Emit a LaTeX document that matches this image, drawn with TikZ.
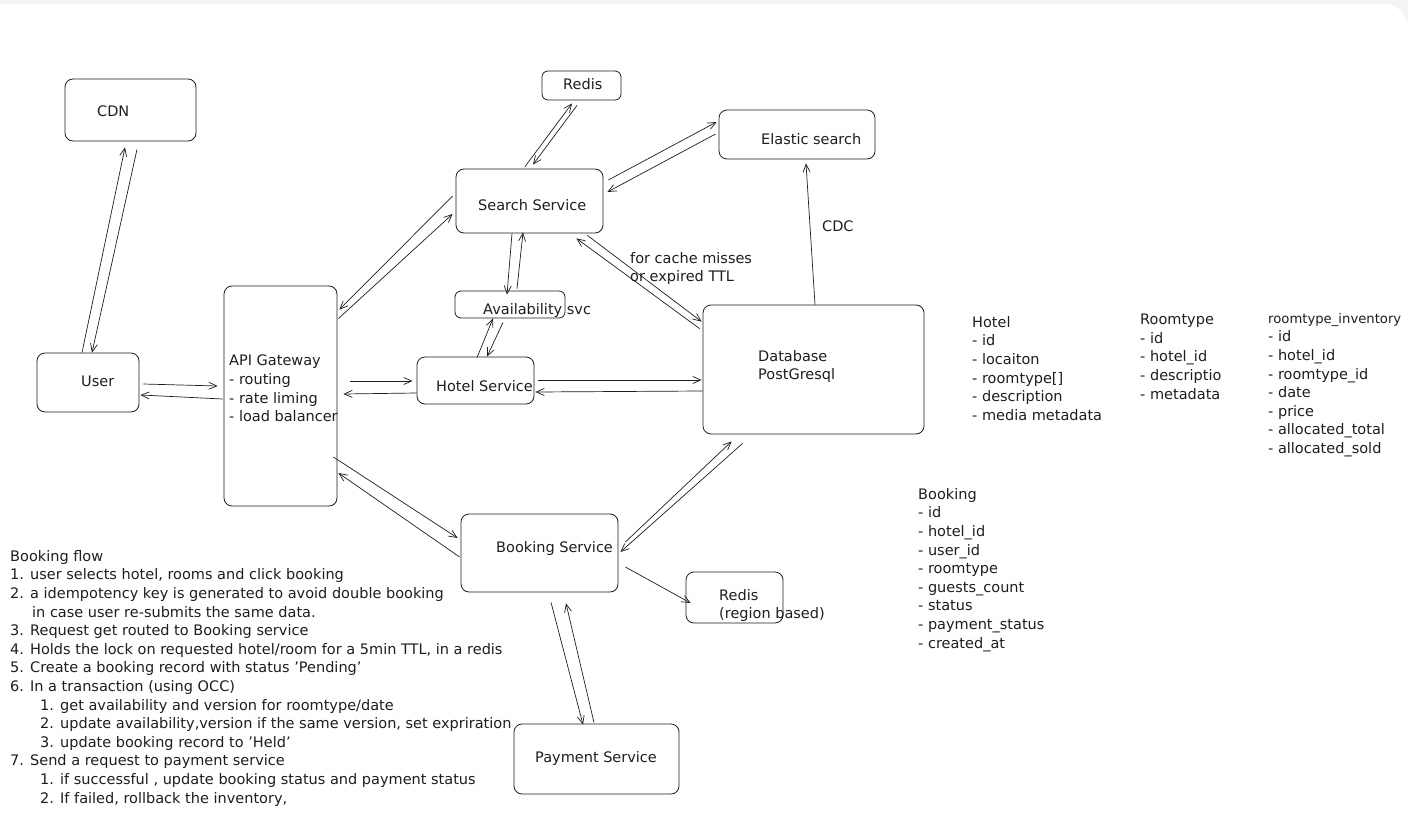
\documentclass[tikz,border=0pt]{standalone}
\usepackage{fontspec}
\setmainfont{DejaVu Sans}
\usetikzlibrary{arrows.meta,calc}
\definecolor{ink}{HTML}{1E1E1E}
\definecolor{framegray}{HTML}{F3F4F6}
\newcommand{\sketchfont}{\fontsize{14.5}{18.6}\selectfont}
\tikzset{
  box/.style={
    draw=ink,
    line width=0.8pt,
    rounded corners=8pt,
    inner sep=0pt
  },
  lbl/.style={
    anchor=west,
    inner sep=0pt,
    text=ink,
    text height=11pt,
    text depth=3pt,
    font=\sketchfont
  },
  note/.style={
    anchor=north west,
    inner sep=0pt,
    text=ink,
    align=left,
    font=\sketchfont
  },
  link/.style={
    draw=ink,
    line width=0.7pt,
    -{Straight Barb[length=8pt,width=7pt]}
  }
}

\begin{document}
\begin{tikzpicture}[x=1pt,y=-1pt]
  \useasboundingbox (0,0) rectangle (1408,816);
  \fill[framegray] (0,0) rectangle (1408,816);
  \fill[white, rounded corners=24pt] (-30,4) -- (1408,4) -- (1408,850) -- (-30,850) -- cycle;

  % boxes
  \node[box, minimum width=131pt, minimum height=62pt] (cdn) at (130.5,110) {};
  \node[box, minimum width=102pt, minimum height=59pt] (user) at (88,382.5) {};
  \node[box, minimum width=113pt, minimum height=220pt] (gateway) at (280.5,396) {};
  \node[box, minimum width=79pt, minimum height=29pt, rounded corners=6pt] (redis) at (581.5,85.5) {};
  \node[box, minimum width=147pt, minimum height=64pt] (search) at (529.5,201) {};
  \node[box, minimum width=156pt, minimum height=49pt] (elastic) at (797,134.5) {};
  \node[box, minimum width=110pt, minimum height=27pt, rounded corners=6pt] (avail) at (510,304.5) {};
  \node[box, minimum width=117pt, minimum height=47pt] (hotel) at (475.5,380.5) {};
  \node[box, minimum width=221pt, minimum height=129pt] (db) at (813.5,369.5) {};
  \node[box, minimum width=157pt, minimum height=78pt] (booking) at (539.5,553) {};
  \node[box, minimum width=97pt, minimum height=51pt] (lockcache) at (734.5,597.5) {};
  \node[box, minimum width=165pt, minimum height=70pt] (payment) at (596.5,759) {};

  % box texts
  \node[lbl] (cdntext) at (97,112) {CDN};
  \node[lbl] (usertext) at (81,382) {User};
  \node[note] (gatewaytext) at (229,355) {API Gateway\\- routing\\- rate liming\\- load balancer};
  \node[lbl] (redistext) at (563,85) {Redis};
  \node[lbl] (searchtext) at (478,206) {Search Service};
  \node[lbl] (elastictext) at (761,140) {Elastic search};
  \node[lbl] (availtext) at (483,310) {Availability svc};
  \node[lbl] (hoteltext) at (436,387) {Hotel Service};
  \node[note] (dbtext) at (758,350) {Database\\PostGresql};
  \node[lbl] (bookingtext) at (496,548) {Booking Service};
  \node[note] (lockcachetext) at (719,589) {Redis\\(region based)};
  \node[lbl] (paymenttext) at (535,758) {Payment Service};

  % edge labels
  \node[lbl] (cdclabel) at (822,227) {CDC};
  \node[note] (misslabel) at (630,252) {for cache misses\\or expired TTL};

  % connectors
  \draw[link] ($(user.north)+(-6,0)$) -- ($(cdn.south)+(-5.5,6)$);
  \draw[link] ($(cdn.south)+(6.5,8)$) -- ($(user.north)+(4,0)$);
  \draw[link] ($(user.east)+(4,1.5)$) -- ($(gateway.west)+(-6,-10)$);
  \draw[link] ($(gateway.west)+(-1,3)$) -- ($(user.east)+(1,12.5)$);
  \draw[link] ($(search.west)+(-3,-5)$) -- ($(gateway.north east)+(2,24)$);
  \draw[link] ($(gateway.north east)+(1,33)$) -- ($(search.west)+(-3,13)$);
  \draw[link] ($(gateway.east)+(13,-15)$) -- ($(hotel.west)+(-4,0.5)$);
  \draw[link] ($(hotel.west)+(0,12.5)$) -- ($(gateway.east)+(6,-2)$);
  \draw[link] ($(gateway.east)+(-4,61)$) -- ($(booking.west)+(-3,-15)$);
  \draw[link] ($(booking.west)+(-1,4)$) -- ($(gateway.east)+(1,77)$);
  \draw[link] ($(search.north)+(-4.5,-2)$) -- ($(redis.south)+(-9.5,3)$);
  \draw[link] ($(redis.south)+(-4.5,5)$) -- ($(search.north)+(3.5,-4)$);
  \draw[link] ($(search.east)+(5,-21)$) -- ($(elastic.west)+(-2,-12.5)$);
  \draw[link] ($(elastic.west)+(-3,-0.5)$) -- ($(search.east)+(4,-9)$);
  \draw[link] ($(search.south)+(-17.5,0)$) -- ($(avail.north)+(-3,4)$);
  \draw[link] ($(avail.north)+(7,-2)$) -- ($(search.south)+(-6.5,-1)$);
  \draw[link] ($(search.south east)+(-16,2)$) -- ($(db.north west)+(-1,17)$);
  \draw[link] ($(db.north west)+(-3,24)$) -- ($(search.south east)+(-27,5)$);
  \draw[link] ($(hotel.north)+(1.5,1)$) -- ($(avail.south)+(-17,0)$);
  \draw[link] ($(avail.south)+(-7,4)$) -- ($(hotel.north)+(11.5,0)$);
  \draw[link] ($(hotel.east)+(4,-0.5)$) -- ($(db.west)+(-1,10.5)$);
  \draw[link] ($(db.west)+(0,21.5)$) -- ($(hotel.east)+(1,11.5)$);
  \draw[link] ($(db.north)+(1.5,0)$) -- ($(elastic.south)+(9,4)$);
  \draw[link] ($(booking.east)+(7,-11)$) -- ($(db.south west)+(29,7)$);
  \draw[link] ($(db.south west)+(40,9)$) -- ($(booking.east)+(2,-1)$);
  \draw[link] ($(booking.east)+(7,14)$) -- ($(lockcache.west)+(5,5.5)$);
  \draw[link] ($(booking.south)+(11.5,10)$) -- ($(payment.north)+(-13.5,1)$);
  \draw[link] ($(payment.north)+(-2.5,-1)$) -- ($(booking.south)+(26.5,11)$);

  % data model
  \node[note] (hoteltable) at (972,316) {Hotel\\- id\\- locaiton\\- roomtype[]\\- description\\- media metadata};
  \node[note] (roomtable) at (1140,314) {Roomtype\\- id\\- hotel\_id\\- descriptio\\- metadata};
  \node[note] (inventorytable) at (1268,313) {{\fontsize{13.2}{18.6}\selectfont roomtype\_inventory}\\- id\\- hotel\_id\\- roomtype\_id\\- date\\- price\\- allocated\_total\\- allocated\_sold};
  \node[note] (bookingtable) at (918,488) {Booking\\- id\\- hotel\_id\\- user\_id\\- roomtype\\- guests\_count\\- status\\- payment\_status\\- created\_at};

  % booking flow
  \node[note] (flow) at (10,550) {Booking flow\\
    1. user selects hotel, rooms and click booking\\
    2. a idempotency key is generated to avoid double booking\\
    \hspace*{22pt}in case user re-submits the same data.\\
    3. Request get routed to Booking service\\
    4. Holds the lock on requested hotel/room for a 5min TTL, in a redis\\
    5. Create a booking record with status 'Pending'\\
    6. In a transaction (using OCC)\\
    \hspace*{30pt}1. get availability and version for roomtype/date\\
    \hspace*{30pt}2. update availability,version if the same version, set expriration\\
    \hspace*{30pt}3. update booking record to 'Held'\\
    7. Send a request to payment service\\
    \hspace*{30pt}1. if successful , update booking status and payment status\\
    \hspace*{30pt}2. If failed, rollback the inventory,};
\end{tikzpicture}
\end{document}
